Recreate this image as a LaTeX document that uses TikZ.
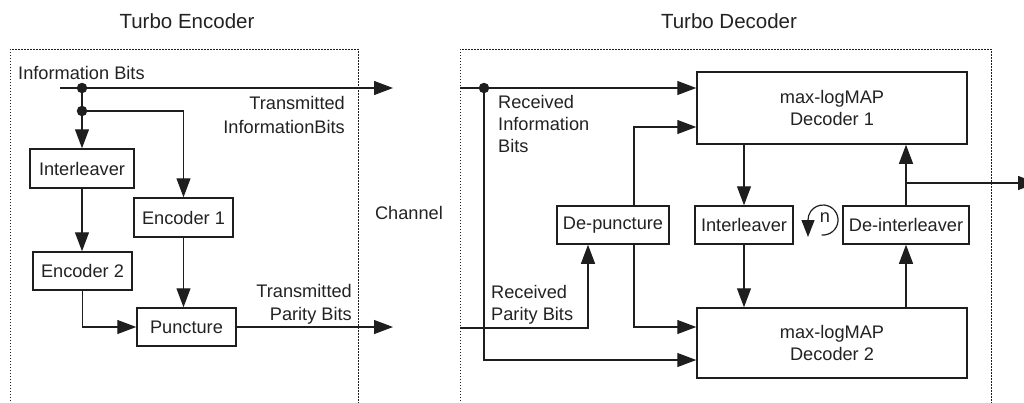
\documentclass[tikz,border=0pt]{standalone}
\usepackage{fontspec}
\setmainfont{Liberation Sans}
\usetikzlibrary{arrows.meta,calc}
\definecolor{lc}{HTML}{1E1E1E}
\definecolor{tc}{HTML}{222222}
\begin{document}
\begin{tikzpicture}[x=1pt,y=-1pt,
 font=\fontsize{18.2pt}{22pt}\selectfont,
 blk/.style={draw=lc,line width=1.5pt,minimum height=38pt,inner sep=0pt,text=tc,align=center},
 con/.style={draw=lc,line width=1.2pt},
 arr/.style={con,-{Triangle[length=19pt,width=14pt]}},
 lbl/.style={text=tc,inner sep=0pt},
 frame/.style={draw=lc,line width=0.9pt,dash pattern=on 1.5pt off 1.5pt},
 dot/.style={circle,fill=lc,inner sep=0pt,minimum size=10.5pt},
 ttl/.style={text=tc,inner sep=0pt,font=\fontsize{20.5pt}{24pt}\selectfont}]
\useasboundingbox (0,0) rectangle (1024,402);

% frames
\draw[frame] (10,410) -- (10,49) -- (358,49) -- (358,410);
\draw[frame] (460,410) -- (460,49) -- (991,49) -- (991,410);

% titles
\node[ttl] (t1) at (187,21) {Turbo Encoder};
\node[ttl] (t2) at (729,21) {Turbo Decoder};
\node[lbl] (chan) at (409,213) {Channel};

% encoder blocks
\node[blk,minimum width=104pt,minimum height=39pt] (eil) at (82,168.5) {Interleaver};
\node[blk,minimum width=99pt,minimum height=39pt] (enc1) at (183.5,217.5) {Encoder 1};
\node[blk,minimum width=99pt] (enc2) at (82.5,271) {Encoder 2};
\node[blk,minimum width=99pt] (punc) at (186.5,327) {Puncture};

\coordinate (ein) at (60,88);
\node[dot] (d1) at (82,88) {};
\node[dot] (d2) at (82,111) {};
\coordinate (eout1) at (393,88);
\coordinate (eout2) at (393,327);

\draw[con] (ein) -- (d1);
\draw[arr] (d1) -- (eout1);
\draw[con] (d1) -- (d2);
\draw[arr] (d2) -- (eil.north);
\draw[arr] (d2) -| (enc1.north);
\draw[arr] (eil.south) -- (eil.south |- enc2.north);
\draw[arr] (enc2.south) |- (punc.west);
\draw[arr] (enc1.south) -- (enc1.south |- punc.north);
\draw[arr] (punc.east) -- (eout2);

\node[lbl,anchor=west] (lib) at (18,73) {Information Bits};
\node[lbl,align=right,anchor=east,font=\fontsize{18.2pt}{24pt}\selectfont] (ltib) at (345,115) {Transmitted\\InformationBits};
\node[lbl,align=right,anchor=east,font=\fontsize{18.2pt}{23pt}\selectfont] (ltpb) at (352,304) {Transmitted\\Parity Bits};

% decoder blocks
\node[blk,minimum width=270pt,minimum height=72pt] (dec1) at (832,108) {max-logMAP\\Decoder 1};
\node[blk,minimum width=270pt,minimum height=70pt] (dec2) at (832,343) {max-logMAP\\Decoder 2};
\node[blk,minimum width=112pt] (dp) at (613,225) {De-puncture};
\node[blk,minimum width=98pt] (dil) at (744,225) {Interleaver};
\node[blk,minimum width=126pt] (ddil) at (906,225) {De-interleaver};

\coordinate (rin) at (460,88);
\node[dot] (d3) at (484,88) {};
\coordinate (rpin) at (460,328);
\draw[con] (rin) -- (d3);
\draw[arr] (d3) -- ([yshift=20pt]dec1.west);
\draw[arr] (d3) |- ([yshift=-17pt]dec2.west);
\draw[arr] (rpin) -| ([xshift=-25pt]dp.south);
\draw[arr] ([xshift=21pt]dp.north) |- ([yshift=-19pt]dec1.west);
\draw[arr] ([xshift=21pt]dp.south) |- ([yshift=16pt]dec2.west);
\draw[arr] (dec1.south -| dil.north) -- (dil.north);
\draw[arr] (dil.south) -- (dil.south |- dec2.north);
\draw[arr] (dec2.north -| ddil.south) -- (ddil.south);
\draw[arr] (ddil.north) -- (ddil.north |- dec1.south);
\coordinate (bry) at (0,183);
\coordinate (br) at (ddil.north |- bry);
\coordinate (dout) at (1037,183);
\draw[arr] (br) -- (dout);

\node[lbl,align=left,anchor=west] (lri) at (498,124) {Received\\Information\\Bits};
\node[lbl,align=left,anchor=west] (lrp) at (491,305) {Received\\Parity Bits};

% iteration loop
\coordinate (lpc) at (823,220);
\draw[con,-{Triangle[length=17pt,width=13pt]}] ([shift={(-95:15pt)}]lpc) arc[start angle=-95,end angle=180,radius=15pt] -- ++(0pt,-17pt);
\node[lbl] (nn) at (825,218) {n};
\end{tikzpicture}
\end{document}
